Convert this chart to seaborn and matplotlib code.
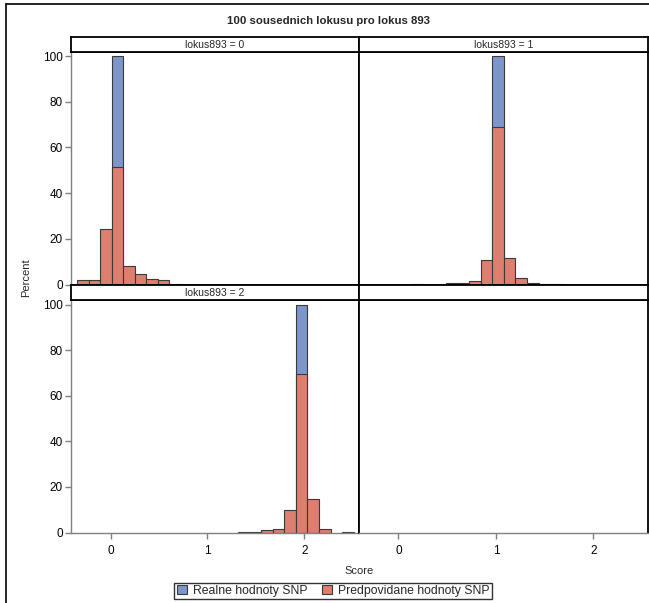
import numpy as np
import pandas as pd
import seaborn as sns
import matplotlib
matplotlib.use("Agg")
import matplotlib.pyplot as plt
from matplotlib.patches import Patch
from matplotlib.lines import Line2D

# ---------------- data ----------------
title = "100 sousednich lokusu pro lokus 893"
panel_labels = ["lokus893 = 0", "lokus893 = 1", "lokus893 = 2"]
series_names = ["Realne hodnoty SNP", "Predpovidane hodnoty SNP"]
x_label = "Score"
y_label = "Percent"
x_ticks = [0, 1, 2]
y_ticks = [0, 20, 40, 60, 80, 100]

score_bins = [-0.29, -0.17, -0.05, 0.07, 0.19, 0.31, 0.43, 0.55, 0.66, 0.78,
              0.90, 1.02, 1.14, 1.26, 1.38, 1.50, 1.62, 1.74, 1.85, 1.97,
              2.09, 2.21, 2.33, 2.45]

pred_0 = [1.8, 1.8, 24.5, 51.5, 8.3, 4.6, 2.2, 1.8, 0.4, 0,
          0, 0, 0, 0, 0, 0, 0, 0, 0, 0,
          0, 0, 0, 0]
pred_1 = [0, 0, 0, 0, 0.4, 0, 0, 0.8, 0.7, 1.5,
          10.8, 69.0, 11.6, 2.8, 0.8, 0.4, 0.4, 0, 0, 0,
          0, 0, 0, 0]
pred_2 = [0, 0, 0, 0, 0, 0, 0, 0, 0, 0,
          0, 0, 0, 0, 0.3, 0.3, 1.2, 1.6, 9.8, 69.5,
          14.5, 1.6, 0, 0.4]
predicted = [pred_0, pred_1, pred_2]

real_scores = [0.07, 1.02, 1.97]
real_pct = [100, 100, 100]

colors = {"Realne hodnoty SNP": "#7C95CA", "Predpovidane hodnoty SNP": "#DE7E6F"}

# ---------------- long table ----------------
rows = []
for p in range(3):
    rows.append((p, series_names[0], real_scores[p], real_pct[p]))
    for s, v in zip(score_bins, predicted[p]):
        if v > 0:
            rows.append((p, series_names[1], s, v))
df = pd.DataFrame(rows, columns=["panel", "series", "score", "percent"])

BW = 0.119
B_START = 0.01 - 4 * BW
B_STOP = 0.01 + 22 * BW

# ---------------- figure ----------------
sns.set_style("white")
plt.rcParams["font.family"] = ["Liberation Sans", "DejaVu Sans"]

W, H = 649, 603
fig = plt.figure(figsize=(W / 100, H / 100), dpi=100)


def fx(px):
    return px / W


def fy(py):
    return 1 - py / H


col_x = [(71, 358.5), (358.5, 648)]
row_y = [(51.5, 284.5), (300, 532.5)]
hdr_y = [(37, 51.5), (284.5, 300)]
xlim = (-0.41, 2.56)
ylim = (0, 102)
gray = "#808080"
edge = "#3a3a3a"

for r in range(2):
    for c in range(2):
        p = r * 2 + c
        x0, x1 = col_x[c]
        y0, y1 = row_y[r]
        ax = fig.add_axes([fx(x0), fy(y1), fx(x1) - fx(x0), fy(y0) - fy(y1)])
        if p < 3:
            sub = df[df.panel == p]
            for name in series_names:
                d = sub[sub.series == name]
                sns.histplot(data=d, x="score", weights="percent",
                             binwidth=BW, binrange=(B_START, B_STOP),
                             color=colors[name], alpha=1, edgecolor=edge,
                             linewidth=0.8, ax=ax, legend=False)
            for patch in list(ax.patches):
                if patch.get_height() <= 0:
                    patch.remove()
        ax.set_xlim(*xlim)
        ax.set_ylim(*ylim)
        ax.set_xlabel("")
        ax.set_ylabel("")
        for sp in ax.spines.values():
            sp.set_color("black")
            sp.set_linewidth(1.3)
        ax.tick_params(colors=gray, labelcolor="black", labelsize=8.5,
                       length=4, width=1, direction="out")
        if c == 0:
            ax.set_yticks(y_ticks)
            ax.spines["left"].set_color(gray)
            ax.spines["left"].set_linewidth(1)
            ax.tick_params(axis="y", left=True, pad=2)
        else:
            ax.set_yticks([])
        if r == 1:
            ax.set_xticks(x_ticks)
            ax.spines["bottom"].set_color(gray)
            ax.spines["bottom"].set_linewidth(1)
            ax.tick_params(axis="x", bottom=True, pad=5)
        else:
            ax.set_xticks([])

        # strip header
        hy0, hy1 = hdr_y[r]
        hax = fig.add_axes([fx(x0), fy(hy1), fx(x1) - fx(x0), fy(hy0) - fy(hy1)])
        hax.set_xticks([])
        hax.set_yticks([])
        hax.set_facecolor("white")
        for sp in hax.spines.values():
            sp.set_color("black")
            sp.set_linewidth(1.3)
        if p < 3:
            hax.text(0.5, 0.45, panel_labels[p], ha="center", va="center",
                     fontsize=7.5, transform=hax.transAxes)

fig.text(fx(328), fy(21), title, ha="center", va="center",
         fontsize=8.2, fontweight="bold")
fig.text(fx(359.5), fy(571), x_label, ha="center", va="center", fontsize=8)
fig.text(fx(26), fy(278), y_label, ha="center", va="center", fontsize=8,
         rotation=90)

handles = [Patch(facecolor=colors[n], edgecolor=edge, linewidth=0.8, label=n)
           for n in series_names]
leg = fig.legend(handles=handles, loc="center", bbox_to_anchor=(fx(333), fy(591)),
                 ncol=2, fontsize=8.8, frameon=True, fancybox=False,
                 handlelength=0.8, handleheight=0.8, handletextpad=0.5,
                 columnspacing=1.2, borderpad=0.2, borderaxespad=0)
leg.get_frame().set_edgecolor("black")
leg.get_frame().set_linewidth(1)

# outer frame lines
fig.add_artist(Line2D([fx(6), fx(6)], [fy(4), 0], color="black", lw=1.2))
fig.add_artist(Line2D([fx(6), 1], [fy(4), fy(4)], color="black", lw=1.2))

fig.savefig("out.png", dpi=100)
